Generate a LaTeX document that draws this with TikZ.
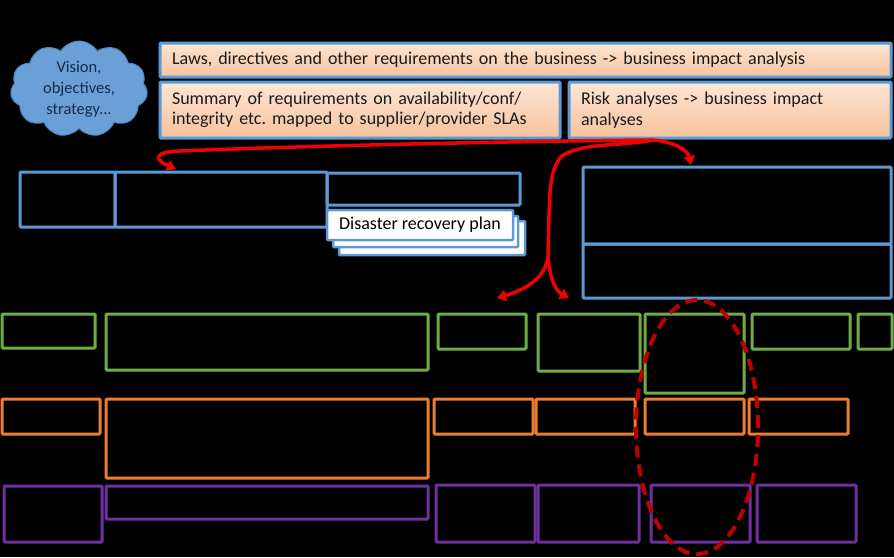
\documentclass[tikz,border=0pt]{standalone}
\usepackage{fontspec}
\setmainfont{Carlito}
\frenchspacing
\usetikzlibrary{shapes.symbols,shapes.geometric,arrows.meta,calc}
\definecolor{bblue}{HTML}{5B9BD5}
\definecolor{cloudfill}{HTML}{6A9FD8}
\definecolor{cloudline}{HTML}{4F86C0}
\definecolor{navytext}{HTML}{172B4A}
\definecolor{ggreen}{HTML}{70AD47}
\definecolor{oorange}{HTML}{ED7D31}
\definecolor{ppurple}{HTML}{7030A0}
\definecolor{peachtop}{HTML}{FDE6D4}
\definecolor{peachbot}{HTML}{F6C29D}
\definecolor{arrred}{HTML}{F00000}
\definecolor{darkred}{HTML}{C00000}
\definecolor{bodytext}{HTML}{1A1A1A}
\tikzset{
  frame/.style={draw, line width=3pt, inner sep=0pt, outer sep=0pt, rounded corners=1pt},
  bluebox/.style={frame, draw=bblue},
  greenbox/.style={frame, draw=ggreen},
  orangebox/.style={frame, draw=oorange},
  purplebox/.style={frame, draw=ppurple},
  peachbox/.style={frame, draw=bblue, top color=peachtop, bottom color=peachbot,
    text=bodytext, font=\fontsize{18}{20.5}\selectfont, align=left},
  docbox/.style={frame, draw=bblue, fill=white, line width=2.5pt,
    font=\fontsize{18}{20}\selectfont, text=black},
  flow/.style={draw=arrred, line width=3.5pt, line cap=round,
    -{Triangle[length=9pt,width=11pt]}},
}
\newcommand{\ebox}[6]{%
  \pgfmathsetmacro{\myW}{#4-#2}\pgfmathsetmacro{\myH}{#5-#3}%
  \pgfmathsetmacro{\myCX}{(#2+#4)/2}\pgfmathsetmacro{\myCY}{(#3+#5)/2}%
  \node[#6, minimum width=\myW pt, minimum height=\myH pt] (#1) at (\myCX,\myCY) {};}
\newcommand{\tbox}[7]{%
  \pgfmathsetmacro{\myW}{#4-#2}\pgfmathsetmacro{\myH}{#5-#3}%
  \pgfmathsetmacro{\myTW}{#4-#2-24}%
  \pgfmathsetmacro{\myCX}{(#2+#4)/2}\pgfmathsetmacro{\myCY}{(#3+#5)/2}%
  \node[#6, minimum width=\myW pt, minimum height=\myH pt, text width=\myTW pt] (#1) at (\myCX,\myCY) {#7};}
\begin{document}
\begin{tikzpicture}[x=1pt, y=-1pt]
\fill[black] (0,0) rectangle (894,557);
\useasboundingbox (0,0) rectangle (894,557);

% cloud
\node[cloud, cloud puffs=11, cloud puff arc=115, aspect=1.6, draw=cloudline, line width=1pt,
  fill=cloudfill, minimum width=137pt, minimum height=86pt, inner sep=0pt,
  text=navytext, align=center, font=\fontsize{16.5}{21}\selectfont] (vision) at (79,89)
  {Vision,\\ objectives,\\ strategy...};

% top requirement boxes
\tbox{laws}{160}{43}{891}{77}{peachbox}{Laws, directives and other requirements on the business -> business impact analysis}
\tbox{summary}{160}{82}{560}{138}{peachbox}{Summary of requirements on availability/conf/\\ integrity etc. mapped to supplier/provider SLAs}
\tbox{risk}{569}{82}{891}{138}{peachbox}{Risk analyses -> business impact\\ analyses}

% blue row
\ebox{ba}{20}{172}{115}{227}{bluebox}
\ebox{bb}{115}{172}{327}{227}{bluebox}
\ebox{bc}{327}{173}{520}{205}{bluebox}
\ebox{drp3}{339}{221}{525}{255}{docbox}
\ebox{drp2}{333}{216}{518}{247}{docbox}
\node[docbox, minimum width=186pt, minimum height=30pt] (drp) at (420,225) {Disaster recovery plan};
\ebox{rtop}{583}{167}{891}{244}{bluebox}
\ebox{rbot}{583}{244}{891}{298}{bluebox}

% green row
\ebox{g1}{2}{314}{95}{348}{greenbox}
\ebox{g2}{106}{314}{428}{370}{greenbox}
\ebox{g3}{438}{314}{526}{349}{greenbox}
\ebox{g4}{538}{314}{640}{371}{greenbox}
\ebox{g5}{645}{314}{744}{393}{greenbox}
\ebox{g6}{752}{314}{850}{349}{greenbox}
\ebox{g7}{858}{314}{892}{349}{greenbox}

% orange row
\ebox{o1}{2}{399}{100}{434}{orangebox}
\ebox{o2}{106}{399}{428}{478}{orangebox}
\ebox{o3}{434}{399}{533}{434}{orangebox}
\ebox{o4}{536}{399}{635}{434}{orangebox}
\ebox{o5}{645}{399}{744}{434}{orangebox}
\ebox{o6}{749}{399}{848}{434}{orangebox}

% purple row
\ebox{p1}{4}{486}{102}{542}{purplebox}
\ebox{p2}{106}{486}{428}{519}{purplebox}
\ebox{p3}{436}{485}{535}{542}{purplebox}
\ebox{p4}{538}{485}{639}{542}{purplebox}
\ebox{p5}{651}{485}{750}{542}{purplebox}
\ebox{p6}{757}{485}{856}{542}{purplebox}

% red arrows
\coordinate (src) at (652,140);
\coordinate (tipB) at (176,169);
\coordinate (tipR) at (691,165);
\coordinate (split) at (548,256);
\coordinate (tipL) at (497,298);
\coordinate (tipM) at (569,298);
\draw[flow] (src) .. controls (520,141) and (300,146) .. (180,151)
  .. controls (152,152) and (155,160) .. (tipB);
\draw[flow] (src) .. controls (672,141) and (688,150) .. (tipR);
\draw[draw=arrred, line width=3.5pt, line cap=round] (src) .. controls (630,146) and (575,142) .. (560,158)
  .. controls (550,172) and (550,190) .. (549,215) -- (split);
\draw[flow] (split) .. controls (546,278) and (525,290) .. (tipL);
\draw[flow] (split) .. controls (550,280) and (556,291) .. (tipM);

% dashed focus ellipse
\node[ellipse, draw=darkred, line width=4pt, dash pattern=on 12pt off 7pt,
  minimum width=122pt, minimum height=254pt, inner sep=0pt] (focus) at (697,427) {};
\end{tikzpicture}
\end{document}
